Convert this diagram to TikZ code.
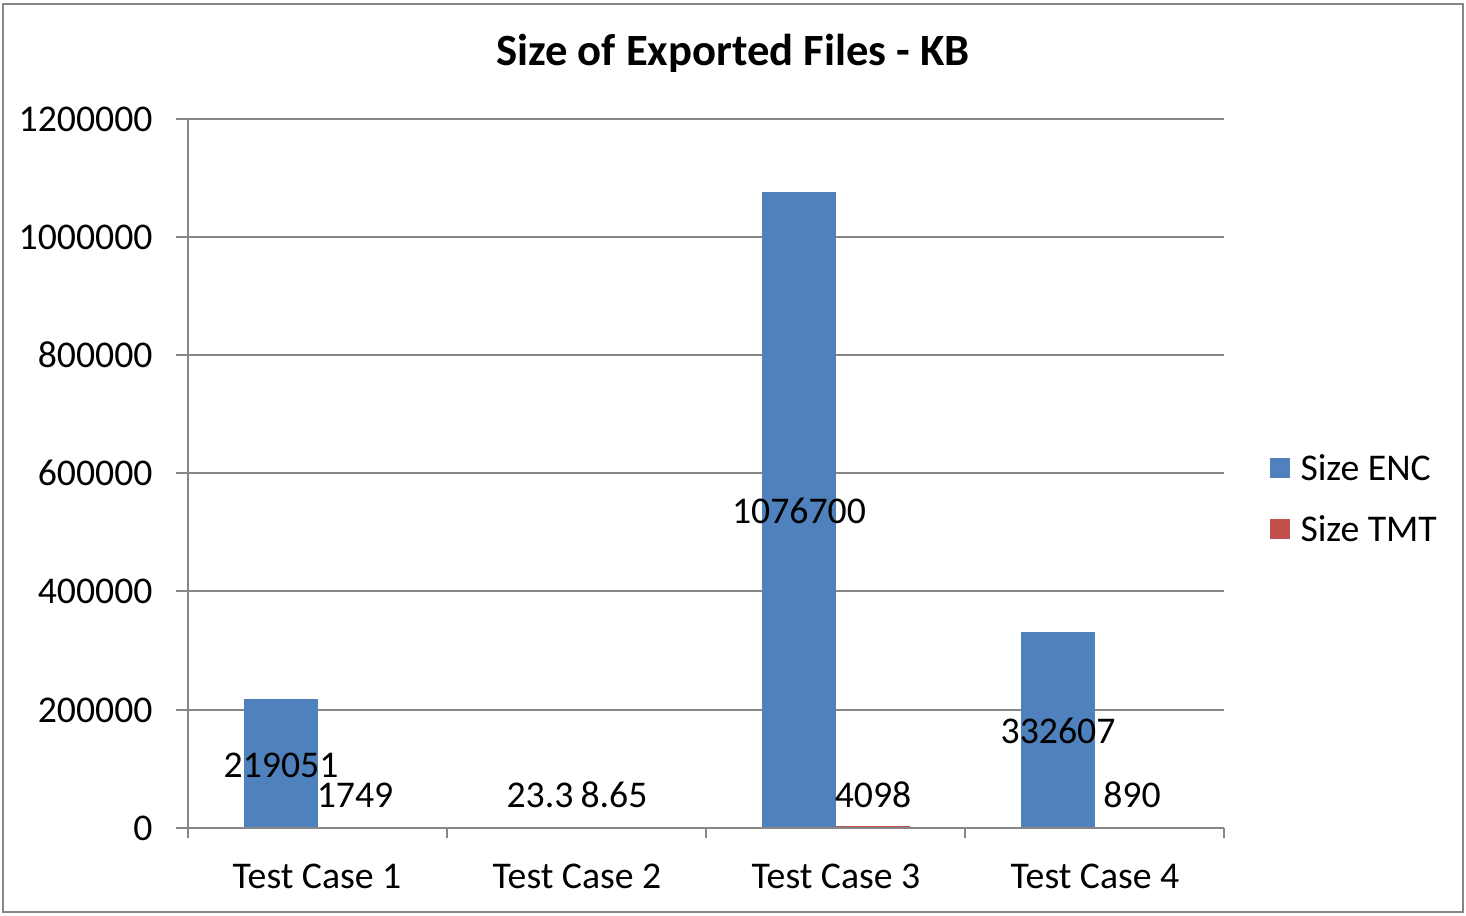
\documentclass[tikz,border=0pt]{standalone}
\usepackage{fontspec}
\setmainfont{Carlito}

\definecolor{encblue}{RGB}{79,129,189}
\definecolor{tmtred}{RGB}{192,80,77}
\definecolor{axisgray}{RGB}{134,134,134}

\tikzset{every picture/.style={line width=0.75pt}}
\tikzset{
  gridline/.style={draw=axisgray, line width=1.5pt},
  encbar/.style={fill=encblue, draw=none},
  tmtbar/.style={fill=tmtred, draw=none},
  txt/.style={font=\fontsize{28.3}{33}\selectfont, inner sep=0pt, text=black},
  ylab/.style={txt, anchor=east},
  charttitle/.style={font=\fontsize{33.5}{38}\selectfont\bfseries, inner sep=0pt}
}

\begin{document}
\begin{tikzpicture}[x=0.75pt,y=0.75pt,yscale=-1,xscale=1]
\useasboundingbox (0,0) rectangle (1466,915);

%Shape: Chart frame
\draw [gridline] (3,4) rectangle (1463,912);

% Title
\node [charttitle] (title) at (733,53) {Size of Exported Files - KB};

%Grid lines, 200000 apart
\draw [gridline] (176,119) -- (1224,119);
\draw [gridline] (176,237) -- (1224,237);
\draw [gridline] (176,355) -- (1224,355);
\draw [gridline] (176,473) -- (1224,473);
\draw [gridline] (176,591) -- (1224,591);
\draw [gridline] (176,710) -- (1224,710);

%Bars: Size ENC
\fill [encbar] (244,828) rectangle (318,698.6);
\fill [encbar] (503,828) rectangle (577,828);
\fill [encbar] (762,828) rectangle (836,191.8);
\fill [encbar] (1021,828) rectangle (1095,631.5);
%Bars: Size TMT
\fill [tmtbar] (318,828) rectangle (392,827);
\fill [tmtbar] (577,828) rectangle (651,828);
\fill [tmtbar] (836,828) rectangle (910,825.6);
\fill [tmtbar] (1095,828) rectangle (1169,827.5);

%Axes with tick marks
\draw [gridline] (188,119) -- (188,838);
\draw [gridline] (176,828) -- (1224,828);
\draw [gridline] (447,828) -- (447,838);
\draw [gridline] (706,828) -- (706,838);
\draw [gridline] (965,828) -- (965,838);
\draw [gridline] (1224,828) -- (1224,838);

% Y axis labels
\node [ylab] (y6) at (153,119) {1200000};
\node [ylab] (y5) at (153,237) {1000000};
\node [ylab] (y4) at (153,355) {800000};
\node [ylab] (y3) at (153,473) {600000};
\node [ylab] (y2) at (153,591) {400000};
\node [ylab] (y1) at (153,710) {200000};
\node [ylab] (y0) at (153,828) {0};

% Category labels
\node [txt] (tc1) at (317,876) {Test Case 1};
\node [txt] (tc2) at (577,876) {Test Case 2};
\node [txt] (tc3) at (836,876) {Test Case 3};
\node [txt] (tc4) at (1095,876) {Test Case 4};

% Value labels
\node [txt] (v1enc) at (281,765) {219051};
\node [txt] (v1tmt) at (355,795) {1749};
\node [txt] (v2enc) at (540,795) {23.3};
\node [txt] (v2tmt) at (614,795) {8.65};
\node [txt] (v3enc) at (799,511) {1076700};
\node [txt] (v3tmt) at (873,795) {4098};
\node [txt] (v4enc) at (1058,731) {332607};
\node [txt] (v4tmt) at (1132,795) {890};

% Legend
\fill [encbar] (1270,458) rectangle (1290,478);
\node [txt, anchor=west] (legenc) at (1300,468) {Size ENC};
\fill [tmtbar] (1270,519) rectangle (1290,539);
\node [txt, anchor=west] (legtmt) at (1300,529) {Size TMT};

\end{tikzpicture}
\end{document}
